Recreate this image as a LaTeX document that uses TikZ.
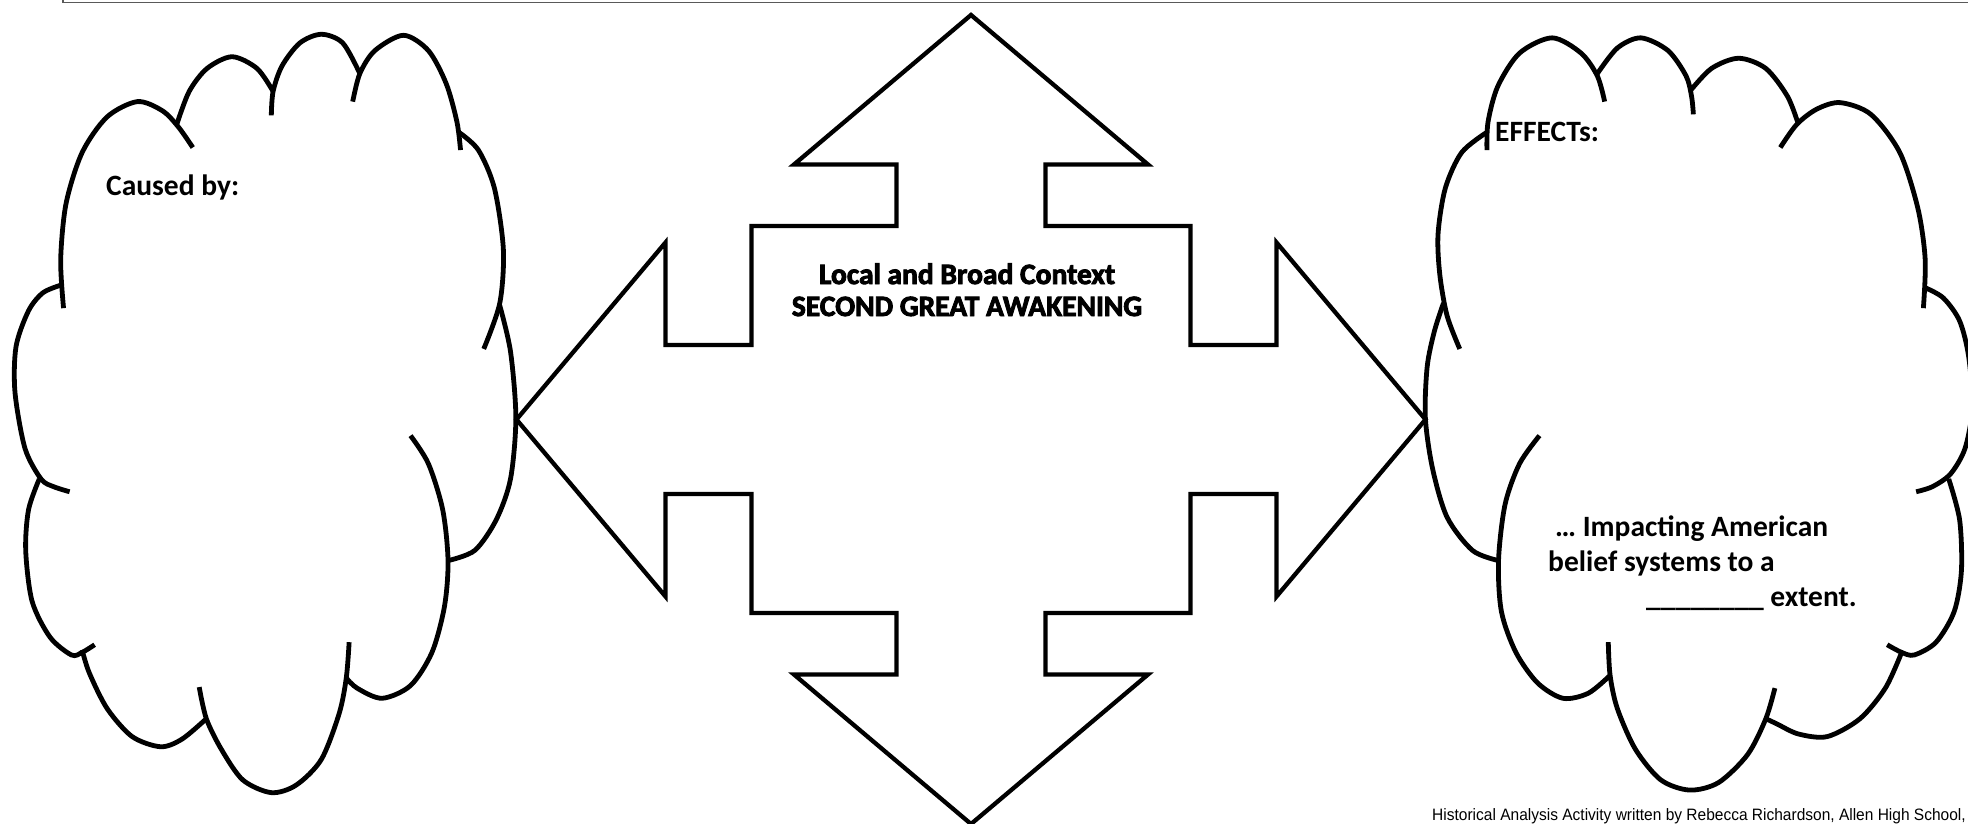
\documentclass[tikz,border=0pt]{standalone}
\usepackage{fontspec}
\usepackage{graphicx}
\setmainfont{Carlito}
\newfontfamily\ctxfont[FakeBold=3]{Carlito Bold}
\newfontfamily\footfont{Liberation Sans}
\tikzset{
  cloudarc/.style={line width=4.8pt, line cap=butt},
  arrowline/.style={line width=4.3pt, line join=miter},
  lbl/.style={font=\bfseries\fontsize{29.5}{35}\selectfont, inner sep=0pt, anchor=base west},
}
\begin{document}
\begin{tikzpicture}[x=1pt, y=-1pt]
\useasboundingbox (0,0) rectangle (1968,824);
% top border
\draw[black!65, line width=1.3pt] (63,0) -- (63,2.5) -- (1968,2.5);

% left cloud
\begin{scope}[shift={(0,20)}, xscale=0.357, yscale=0.51]
\draw[cloudarc] plot[smooth] coordinates {(178,565) (170,470) (185,360) (230,260) (300,190) (385,160) (455,178) (500,210) (540,250)};
\draw[cloudarc] plot[smooth] coordinates {(495,205) (530,140) (580,95) (650,72) (720,95) (765,140)};
\draw[cloudarc] plot[smooth] coordinates {(760,187) (765,140) (790,90) (840,45) (900,28) (960,45) (1008,105)};
\draw[cloudarc] plot[smooth] coordinates {(988,160) (1008,105) (1050,60) (1130,30) (1200,60) (1250,125) (1280,200) (1290,255)};
\draw[cloudarc] plot[smooth] coordinates {(1285,220) (1340,255) (1385,330) (1410,450) (1400,555) (1355,645)};
\draw[cloudarc] plot[smooth] coordinates {(1400,560) (1430,650) (1445,780) (1430,900) (1390,980) (1330,1040) (1255,1060)};
\draw[cloudarc] plot[smooth] coordinates {(1150,815) (1200,870) (1240,960) (1255,1060) (1245,1150) (1210,1240) (1150,1305) (1070,1330) (1000,1310) (970,1290)};
\draw[cloudarc] plot[smooth] coordinates {(978,1220) (970,1290) (950,1360) (900,1450) (830,1500) (760,1515) (680,1490) (620,1430) (578,1370) (558,1308)};
\draw[cloudarc] plot[smooth] coordinates {(578,1370) (510,1410) (450,1425) (370,1405) (300,1350) (250,1280) (230,1235)};
\draw[cloudarc] plot[smooth] coordinates {(110,900) (80,960) (72,1040) (90,1140) (140,1210) (200,1245) (230,1240) (265,1225)};
\draw[cloudarc] plot[smooth] coordinates {(195,925) (150,915) (115,900) (70,840) (42,730) (45,640) (80,570) (120,535) (170,520)};
\end{scope}

% right cloud
\begin{scope}[shift={(1400,20)}, xscale=0.3622, yscale=0.51]
\draw[cloudarc] plot[smooth] coordinates {(240,255) (243,200) (270,130) (330,65) (420,35) (500,65) (545,110) (565,160)};
\draw[cloudarc] plot[smooth] coordinates {(545,105) (600,55) (665,35) (740,60) (790,110) (805,150) (810,185)};
\draw[cloudarc] plot[smooth] coordinates {(800,140) (860,95) (935,75) (1010,95) (1070,150) (1100,205)};
\draw[cloudarc] plot[smooth] coordinates {(1050,250) (1095,205) (1150,175) (1215,162) (1300,185) (1380,260) (1430,370) (1450,470) (1445,565)};
\draw[cloudarc] plot[smooth] coordinates {(1450,525) (1500,545) (1545,590) (1570,660) (1580,760) (1560,840) (1520,890) (1470,915) (1425,925)};
\draw[cloudarc] plot[smooth] coordinates {(1515,900) (1545,980) (1550,1080) (1530,1160) (1480,1220) (1420,1245) (1385,1240) (1345,1225)};
\draw[cloudarc] plot[smooth] coordinates {(1385,1240) (1340,1310) (1270,1370) (1180,1405) (1100,1400) (1040,1380) (1010,1370)};
\draw[cloudarc] plot[smooth] coordinates {(1035,1310) (1010,1370) (960,1440) (880,1495) (800,1510) (720,1490) (650,1430) (600,1350) (580,1285) (575,1220)};
\draw[cloudarc] plot[smooth] coordinates {(385,815) (330,870) (290,950) (272,1060) (280,1160) (320,1240) (380,1300) (450,1330) (520,1320) (580,1285)};
\draw[cloudarc] plot[smooth] coordinates {(272,1060) (200,1040) (130,975) (90,880) (70,780) (75,680) (95,610) (120,555)};
\draw[cloudarc] plot[smooth] coordinates {(165,645) (130,580) (110,500) (105,420) (125,330) (170,260) (240,220)};
\end{scope}

% central four-way arrow
\draw[arrowline] (971,15) -- (1148,164.5) -- (1045.5,164.5) -- (1045.5,226) -- (1190.5,226) -- (1190.5,345) -- (1276.5,345) -- (1276.5,242.5) -- (1425.5,419.5) -- (1276.5,596.5) -- (1276.5,494) -- (1190.5,494) -- (1190.5,613) -- (1045.5,613) -- (1045.5,674.5) -- (1148,674.5) -- (971,824) -- (794,674.5) -- (896.5,674.5) -- (896.5,613) -- (751.5,613) -- (751.5,494) -- (665.5,494) -- (665.5,596.5) -- (516.5,419.5) -- (665.5,242.5) -- (665.5,345) -- (751.5,345) -- (751.5,226) -- (896.5,226) -- (896.5,164.5) -- (794,164.5) -- cycle;

% texts
\node[inner sep=0pt, anchor=base, font=\ctxfont\fontsize{29.5}{32}\selectfont] (ctx1) at (967,284) {Local and Broad Context};
\node[inner sep=0pt, anchor=base, font=\ctxfont\fontsize{29.5}{32}\selectfont] (ctx2) at (967,316) {SECOND GREAT AWAKENING};
\node[lbl] (cause) at (106,195) {Caused by:};
\node[lbl] (effects) at (1495,142) {EFFECTs:};
\node[lbl] (imp1) at (1555,536) {… Impacting American};
\node[lbl] (imp2) at (1548,571) {belief systems to a};
\node[lbl] (imp3) at (1646,606) {\_\_\_\_\_\_\_\_ extent.};
\node[inner sep=0pt, anchor=base east] (foot) at (1966,820) {\scalebox{0.94}[1]{\footfont\fontsize{16.5}{18}\selectfont Historical Analysis Activity written by Rebecca Richardson, Allen High School,}};
\end{tikzpicture}
\end{document}
